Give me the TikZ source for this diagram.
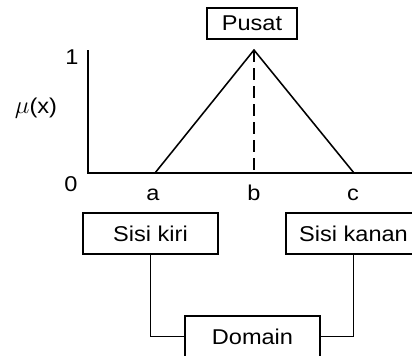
\documentclass[tikz,border=0pt]{standalone}
\usepackage{fontspec}
\setmainfont{Liberation Sans}[FakeStretch=1.1]
\usetikzlibrary{positioning}

\tikzset{
  txt/.style={font=\fontsize{21.5}{25}\selectfont},
  box/.style={txt,draw,line width=0.055cm,minimum width=135bp,minimum height=41bp,inner sep=0pt},
  link/.style={line width=0.055cm}
}

\begin{document}
\begin{tikzpicture}[x=1bp,y=-1bp]
\useasboundingbox (0,0) rectangle (412,356);
\clip (0,0) rectangle (412,356);
% axes
\coordinate (top) at (88,50);
\coordinate (origin) at (88,173);
\coordinate (xend) at (413,173);
\draw[line width=0.075cm] (top) -- (origin) -- (xend);
% triangle
\coordinate (a) at (155,173);
\coordinate (peak) at (254,50);
\coordinate (b) at (254,173);
\coordinate (c) at (354,173);
\draw[line width=0.055cm] (a) -- (peak) -- (c);
\draw[line width=0.09cm,dash pattern=on 12bp off 6bp] (peak) -- (b);
% labels
\draw(72,57) node [txt] (one) {1};
\draw(71,184) node [txt] (zero) {0};
\draw(36,108) node [txt] (mu) {{\fontsize{27}{30}\selectfont$\mu$}(x)};
\draw(153,200) node [txt,anchor=base] (la) {a};
\draw(254,200) node [txt,anchor=base] (lb) {b};
\draw(353,200) node [txt,anchor=base] (lc) {c};
% boxes
\node[box,minimum width=90bp,minimum height=31bp] (pusat) at (252,23.5) {Pusat};
\node[box] (kiri) at (150.5,233.5) {Sisi kiri};
\node[box] (kanan) at (353.5,233.5) {Sisi kanan};
\node[box] (domain) at (252.5,336.5) {Domain};
\draw[link] (kiri.south) |- (domain.west);
\draw[link] (kanan.south) |- (domain.east);
\end{tikzpicture}
\end{document}
